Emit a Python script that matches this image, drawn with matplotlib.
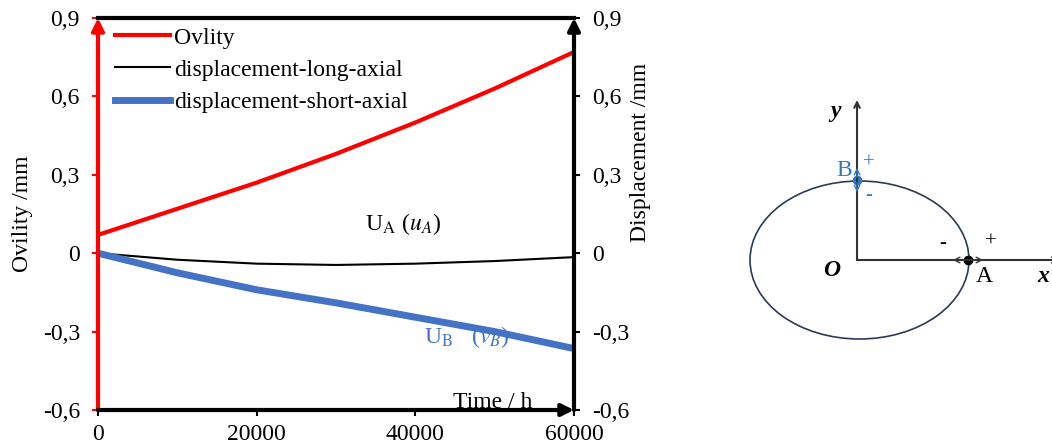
import numpy as np
import matplotlib
matplotlib.use("Agg")
import matplotlib.pyplot as plt
from matplotlib.patches import Ellipse
from matplotlib.ticker import FuncFormatter

plt.rcParams['font.family'] = ['Liberation Serif', 'DejaVu Serif']
plt.rcParams['mathtext.fontset'] = 'stix'

# Data
time_h = [0, 10000, 20000, 30000, 40000, 50000, 60000]
ovality = [0.07, 0.17, 0.27, 0.38, 0.50, 0.63, 0.77]
disp_long = [0.0, -0.025, -0.040, -0.045, -0.040, -0.030, -0.015]
disp_short = [0.0, -0.075, -0.140, -0.190, -0.245, -0.300, -0.365]
x_ticks = [0, 20000, 40000, 60000]
y_ticks = [-0.6, -0.3, 0, 0.3, 0.6, 0.9]

FS = 17
W, H = 1052, 447
fig = plt.figure(figsize=(W / 100, H / 100), dpi=100)
ax = fig.add_axes([98 / W, 1 - 410 / H, (574 - 98) / W, (410 - 18) / H])

fmt = FuncFormatter(lambda v, p: "0" if abs(v) < 1e-9 else f"{v:.1f}".replace(".", ","))

ax.plot(time_h, ovality, color='#ff0000', lw=3, label='Ovlity', zorder=3)
ax.plot(time_h, disp_long, color='black', lw=1.5, label='displacement-long-axial', zorder=3)
ax.plot(time_h, disp_short, color='#4472c4', lw=5, label='displacement-short-axial', zorder=3)

ax.set_xlim(0, 60000)
ax.set_ylim(-0.6, 0.9)
ax.set_xticks(x_ticks)
ax.set_yticks(y_ticks)
ax.yaxis.set_major_formatter(fmt)
ax.tick_params(axis='both', labelsize=FS, direction='out', length=4, width=1.5)
ax.tick_params(axis='x', pad=6)
ax.tick_params(axis='y', colors='#ff0000', labelcolor='black', pad=9)
ax.set_ylabel('Ovility /mm', fontsize=FS)
ax.yaxis.set_label_coords(-0.137, 0.5)

for s in ['left', 'right', 'bottom']:
    ax.spines[s].set_visible(False)
ax.spines['top'].set_linewidth(3)

ax2 = ax.twinx()
ax2.set_ylim(-0.6, 0.9)
ax2.set_yticks(y_ticks)
ax2.yaxis.set_major_formatter(fmt)
ax2.tick_params(axis='y', labelsize=FS, direction='out', length=4, width=1.5, pad=9)
for s in ['left', 'right', 'bottom', 'top']:
    ax2.spines[s].set_visible(False)
ax2.set_ylabel('Displacement /mm', fontsize=FS)
ax2.yaxis.set_label_coords(1.118, 0.656)

# arrowed axes
ax.annotate('', xy=(0, 1), xytext=(0, 0), xycoords='axes fraction',
            arrowprops=dict(arrowstyle='-|>', color='#ff0000', lw=3, mutation_scale=18, shrinkA=0, shrinkB=0), zorder=5, annotation_clip=False)
ax.annotate('', xy=(1, 1), xytext=(1, 0), xycoords='axes fraction',
            arrowprops=dict(arrowstyle='-|>', color='black', lw=3, mutation_scale=18, shrinkA=0, shrinkB=0), zorder=5, annotation_clip=False)
ax.annotate('', xy=(1, 0), xytext=(0, 0), xycoords='axes fraction',
            arrowprops=dict(arrowstyle='-|>', color='black', lw=3, mutation_scale=18, shrinkA=0, shrinkB=0), zorder=5, annotation_clip=False)

ax.text(0.745, 0.005, 'Time / h', transform=ax.transAxes, fontsize=FS, ha='left', va='baseline')
ax.text(0.56, (0.11 + 0.6) / 1.5, r'U$_{\mathrm{A}}$ ($u_A$)', transform=ax.transAxes,
        fontsize=FS, ha='left', va='center', color='black')
ax.text(0.685, (-0.32 + 0.6) / 1.5, r'U$_{\mathrm{B}}$   ($v_B$)', transform=ax.transAxes,
        fontsize=FS, ha='left', va='center', color='#4472c4')

leg = ax.legend(loc='upper left', frameon=False, fontsize=FS, handlelength=2.35,
                borderaxespad=0, labelspacing=0.45, handletextpad=0.15, borderpad=0.3,
                bbox_to_anchor=(0.02, 0.995))

# Schematic diagram (pixel coordinates of the figure)
dax = fig.add_axes([0, 0, 1, 1], facecolor='none')
dax.set_xlim(0, W)
dax.set_ylim(H, 0)
dax.axis('off')
dc = '#2b3a55'
dax.add_patch(Ellipse((859.5, 260), 219, 158, fill=False, edgecolor=dc, lw=1.2))
dax.annotate('', xy=(857, 100), xytext=(857, 260),
             arrowprops=dict(arrowstyle='->', color='#333333', lw=1.5, shrinkA=0, shrinkB=0))
dax.annotate('', xy=(1060, 260), xytext=(857, 260),
             arrowprops=dict(arrowstyle='->', color='#333333', lw=1.5, shrinkA=0, shrinkB=0), annotation_clip=False)
dax.text(836, 112, 'y', fontsize=FS, style='italic', weight='bold', ha='center', va='center')
dax.text(832, 270, 'O', fontsize=FS, style='italic', weight='bold', ha='center', va='center')
dax.text(1043, 277, 'x', fontsize=FS, style='italic', weight='bold', ha='center', va='center')
dax.plot([968], [260], 'o', color='black', ms=6)
dax.annotate('', xy=(950, 260), xytext=(968, 260), arrowprops=dict(arrowstyle='->', color='#333333', lw=1))
dax.annotate('', xy=(986, 260), xytext=(968, 260), arrowprops=dict(arrowstyle='->', color='#333333', lw=1))
dax.text(984, 277, 'A', fontsize=FS, ha='center', va='center')
dax.text(943, 243, '-', fontsize=15, ha='center', va='center')
dax.text(991, 242, '+', fontsize=15, ha='center', va='center')
bc = '#2e7bc4'
dax.plot([857], [180], 'o', color=bc, ms=6)
dax.annotate('', xy=(857, 165), xytext=(857, 180), arrowprops=dict(arrowstyle='->', color=bc, lw=1))
dax.annotate('', xy=(857, 195), xytext=(857, 180), arrowprops=dict(arrowstyle='->', color=bc, lw=1))
dax.text(844, 170, 'B', fontsize=FS, ha='center', va='center', color=bc)
dax.text(869, 163, '+', fontsize=15, ha='center', va='center', color=bc)
dax.text(869, 195, '-', fontsize=15, ha='center', va='center', color=bc)

fig.savefig('out.png', dpi=100)
